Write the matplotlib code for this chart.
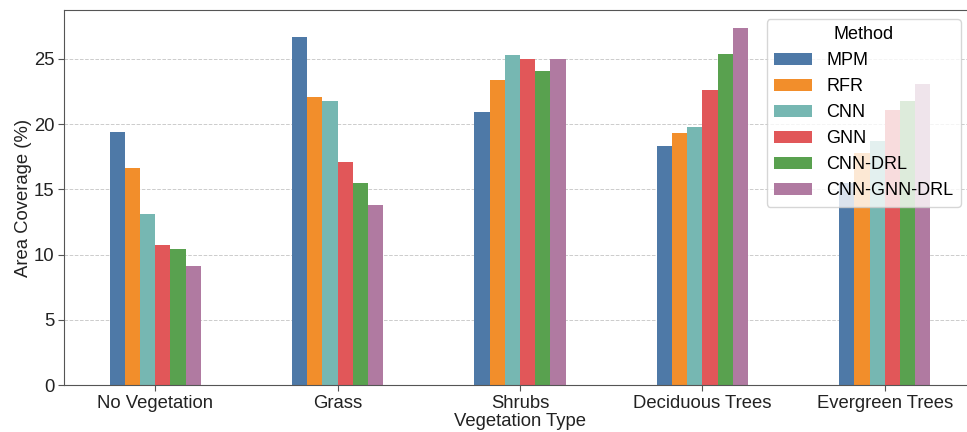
import numpy as np
import pandas as pd
import matplotlib
matplotlib.use("Agg")
import matplotlib.pyplot as plt

plt.rcParams['font.family'] = ['Liberation Sans', 'DejaVu Sans']

# Area coverage (%) per vegetation type for each method
vegetation = ["No Vegetation", "Grass", "Shrubs", "Deciduous Trees", "Evergreen Trees"]
mpm = [19.4, 26.7, 20.9, 18.3, 15.5]
rfr = [16.6, 22.1, 23.4, 19.3, 17.8]
cnn = [13.1, 21.8, 25.3, 19.8, 18.7]
gnn = [10.7, 17.1, 25.0, 22.6, 21.1]
cnn_drl = [10.4, 15.5, 24.1, 25.4, 21.8]
cnn_gnn_drl = [9.1, 13.8, 25.0, 27.4, 23.1]

methods = ["MPM", "RFR", "CNN", "GNN", "CNN-DRL", "CNN-GNN-DRL"]
colors = ["#4e79a7", "#f28e2b", "#76b7b2", "#e15759", "#59a14f", "#b07aa1"]

df = pd.DataFrame(
    {"MPM": mpm, "RFR": rfr, "CNN": cnn, "GNN": gnn,
     "CNN-DRL": cnn_drl, "CNN-GNN-DRL": cnn_gnn_drl},
    index=vegetation,
)

fs = 13.3

fig = plt.figure(figsize=(9.67, 4.32), dpi=100)
ax = fig.add_axes([64 / 967, 47 / 432, (976 - 64) / 967, (385 - 10) / 432])

df[methods].plot(kind="bar", ax=ax, color=colors, rot=0, width=0.5, legend=False)

ax.set_ylim(0, 28.75)
ax.set_xlabel("Vegetation Type", fontsize=fs, color="#222222", labelpad=1)
ax.set_ylabel("Area Coverage (%)", fontsize=fs, color="#222222", labelpad=1)
ax.tick_params(axis="both", labelsize=fs, color="#555555", labelcolor="#222222",
               length=4, pad=3)
ax.yaxis.grid(True, linestyle="--", color="#cccccc", linewidth=0.7)
ax.set_axisbelow(True)
for s in ax.spines.values():
    s.set_color("#555555")

leg = ax.legend(title="Method", loc="upper right", fontsize=13, title_fontsize=13,
                bbox_to_anchor=(0.993, 1.0), handlelength=2.1)

fig.savefig("out.png", dpi=100)
